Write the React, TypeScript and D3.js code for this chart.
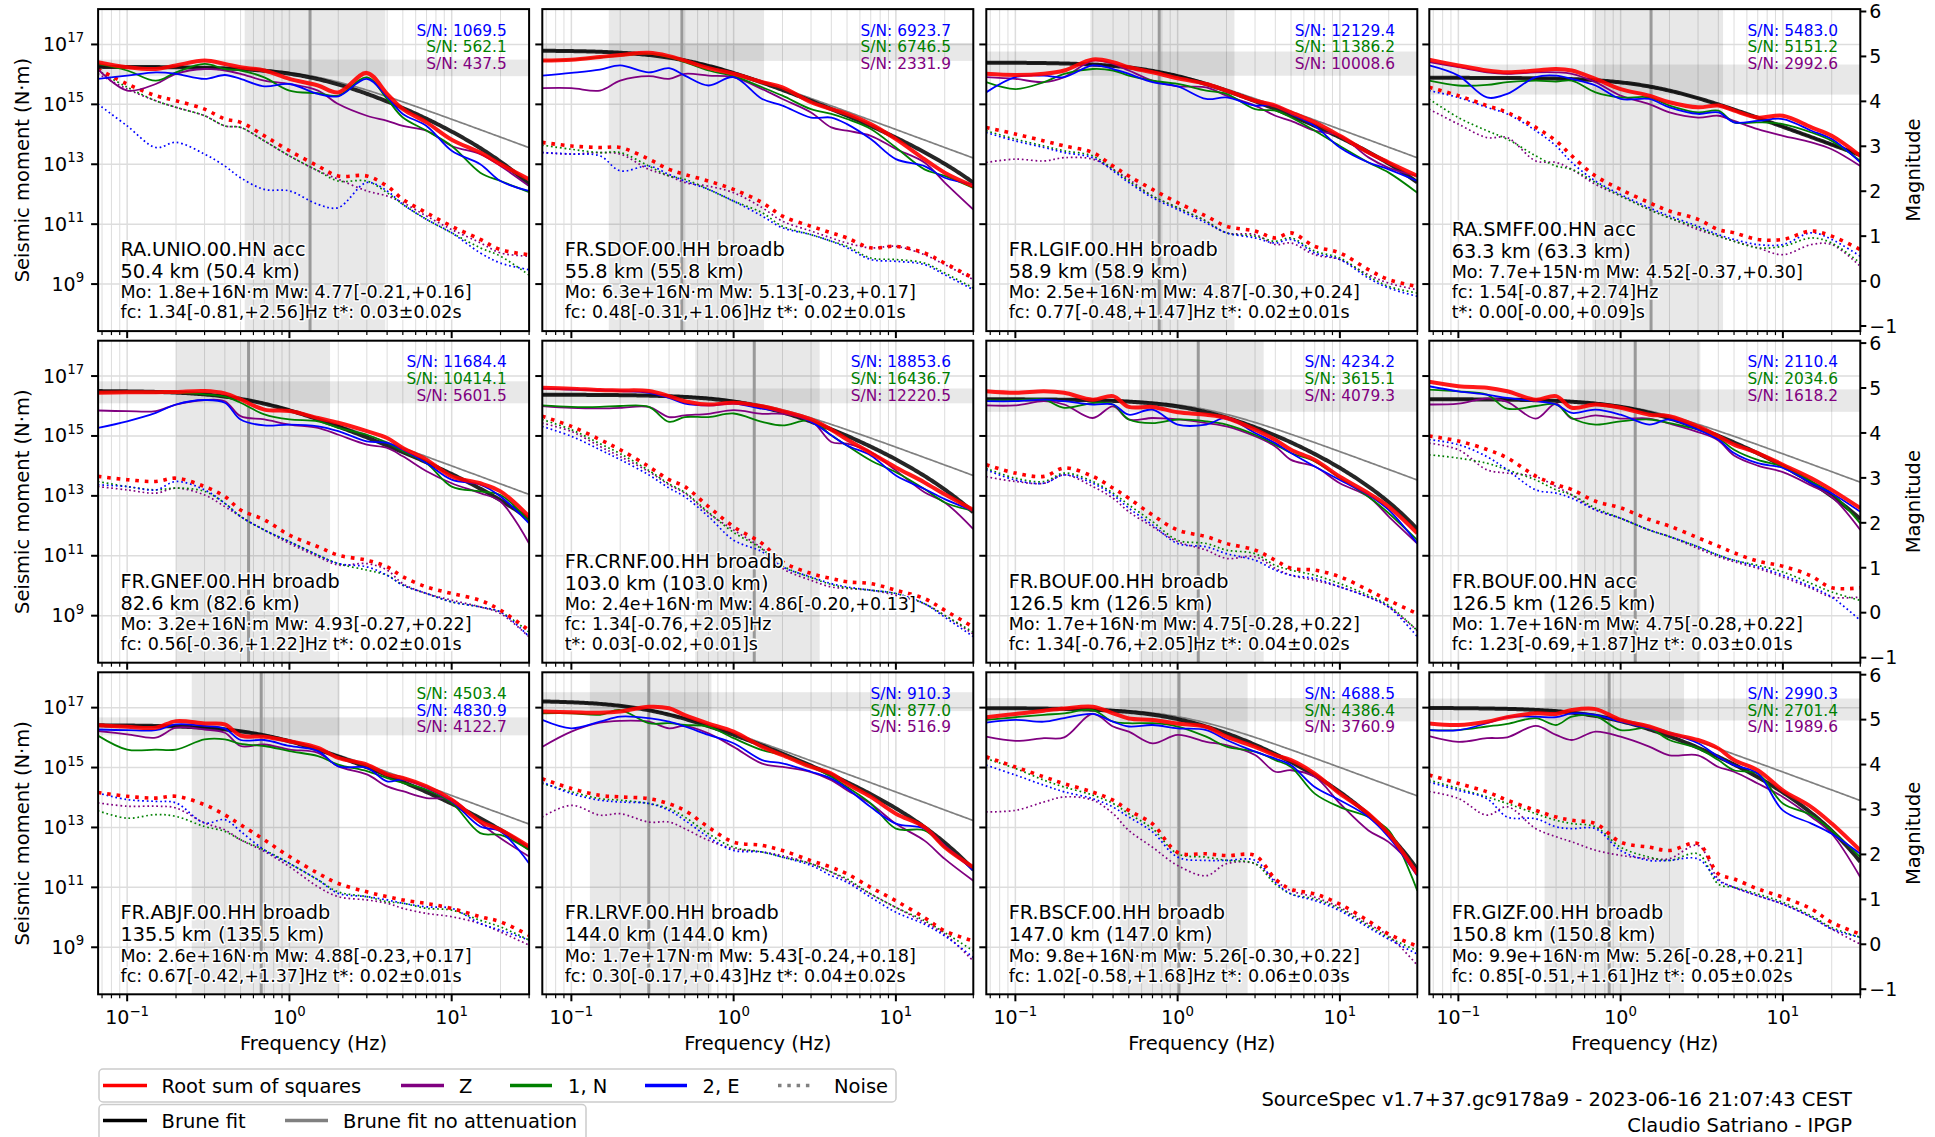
import React from "react";
import * as d3 from "d3";

// ---------------- data ----------------
const FREQ = [0.066, 0.1, 0.15, 0.2, 0.3, 0.4, 0.5, 0.7, 1, 1.5, 2, 3, 4, 5, 7, 10, 15, 20, 30];

const STATION = ["RA.UNIO.00.HN acc", "FR.SDOF.00.HH broadb", "FR.LGIF.00.HH broadb", "RA.SMFF.00.HN acc",
  "FR.GNEF.00.HH broadb", "FR.CRNF.00.HH broadb", "FR.BOUF.00.HH broadb", "FR.BOUF.00.HN acc",
  "FR.ABJF.00.HH broadb", "FR.LRVF.00.HH broadb", "FR.BSCF.00.HH broadb", "FR.GIZF.00.HH broadb"];
const DISTANCE = ["50.4 km (50.4 km)", "55.8 km (55.8 km)", "58.9 km (58.9 km)", "63.3 km (63.3 km)",
  "82.6 km (82.6 km)", "103.0 km (103.0 km)", "126.5 km (126.5 km)", "126.5 km (126.5 km)",
  "135.5 km (135.5 km)", "144.0 km (144.0 km)", "147.0 km (147.0 km)", "150.8 km (150.8 km)"];
const DETAILS = [
  ["Mo: 1.8e+16N·m Mw: 4.77[-0.21,+0.16]", "fc: 1.34[-0.81,+2.56]Hz t*: 0.03±0.02s"],
  ["Mo: 6.3e+16N·m Mw: 5.13[-0.23,+0.17]", "fc: 0.48[-0.31,+1.06]Hz t*: 0.02±0.01s"],
  ["Mo: 2.5e+16N·m Mw: 4.87[-0.30,+0.24]", "fc: 0.77[-0.48,+1.47]Hz t*: 0.02±0.01s"],
  ["Mo: 7.7e+15N·m Mw: 4.52[-0.37,+0.30]", "fc: 1.54[-0.87,+2.74]Hz", "t*: 0.00[-0.00,+0.09]s"],
  ["Mo: 3.2e+16N·m Mw: 4.93[-0.27,+0.22]", "fc: 0.56[-0.36,+1.22]Hz t*: 0.02±0.01s"],
  ["Mo: 2.4e+16N·m Mw: 4.86[-0.20,+0.13]", "fc: 1.34[-0.76,+2.05]Hz", "t*: 0.03[-0.02,+0.01]s"],
  ["Mo: 1.7e+16N·m Mw: 4.75[-0.28,+0.22]", "fc: 1.34[-0.76,+2.05]Hz t*: 0.04±0.02s"],
  ["Mo: 1.7e+16N·m Mw: 4.75[-0.28,+0.22]", "fc: 1.23[-0.69,+1.87]Hz t*: 0.03±0.01s"],
  ["Mo: 2.6e+16N·m Mw: 4.88[-0.23,+0.17]", "fc: 0.67[-0.42,+1.37]Hz t*: 0.02±0.01s"],
  ["Mo: 1.7e+17N·m Mw: 5.43[-0.24,+0.18]", "fc: 0.30[-0.17,+0.43]Hz t*: 0.04±0.02s"],
  ["Mo: 9.8e+16N·m Mw: 5.26[-0.30,+0.22]", "fc: 1.02[-0.58,+1.68]Hz t*: 0.06±0.03s"],
  ["Mo: 9.9e+16N·m Mw: 5.26[-0.28,+0.21]", "fc: 0.85[-0.51,+1.61]Hz t*: 0.05±0.02s"],
];
const MO = [1.8e16, 6.3e16, 2.5e16, 7.7e15, 3.2e16, 2.4e16, 1.7e16, 1.7e16, 2.6e16, 1.7e17, 9.8e16, 9.9e16];
const MW = [4.77, 5.13, 4.87, 4.52, 4.93, 4.86, 4.75, 4.75, 4.88, 5.43, 5.26, 5.26];
const MW_MINUS = [0.21, 0.23, 0.30, 0.37, 0.27, 0.20, 0.28, 0.28, 0.23, 0.24, 0.30, 0.28];
const MW_PLUS = [0.16, 0.17, 0.24, 0.30, 0.22, 0.13, 0.22, 0.22, 0.17, 0.18, 0.22, 0.21];
const FC = [1.34, 0.48, 0.77, 1.54, 0.56, 1.34, 1.34, 1.23, 0.67, 0.30, 1.02, 0.85];
const FC_MINUS = [0.81, 0.31, 0.48, 0.87, 0.36, 0.76, 0.76, 0.69, 0.42, 0.17, 0.58, 0.51];
const FC_PLUS = [2.56, 1.06, 1.47, 2.74, 1.22, 2.05, 2.05, 1.87, 1.37, 0.43, 1.68, 1.61];
const TSTAR = [0.03, 0.02, 0.02, 0.00, 0.02, 0.03, 0.04, 0.03, 0.02, 0.04, 0.06, 0.05];

// S/N labels: [value, component] top to bottom
const SN_LABELS = [
  [["1069.5", "E"], ["562.1", "N"], ["437.5", "Z"]],
  [["6923.7", "E"], ["6746.5", "N"], ["2331.9", "Z"]],
  [["12129.4", "E"], ["11386.2", "N"], ["10008.6", "Z"]],
  [["5483.0", "E"], ["5151.2", "N"], ["2992.6", "Z"]],
  [["11684.4", "E"], ["10414.1", "N"], ["5601.5", "Z"]],
  [["18853.6", "E"], ["16436.7", "N"], ["12220.5", "Z"]],
  [["4234.2", "E"], ["3615.1", "N"], ["4079.3", "Z"]],
  [["2110.4", "E"], ["2034.6", "N"], ["1618.2", "Z"]],
  [["4503.4", "N"], ["4830.9", "E"], ["4122.7", "Z"]],
  [["910.3", "E"], ["877.0", "N"], ["516.9", "Z"]],
  [["4688.5", "E"], ["4386.4", "N"], ["3760.9", "Z"]],
  [["2990.3", "E"], ["2701.4", "N"], ["1989.6", "Z"]],
];

// log10 of seismic moment (N·m) at FREQ, per station
const RSS = [
  [16.41, 16.24, 16.18, 16.30, 16.46, 16.35, 16.24, 16.13, 15.85, 15.63, 15.40, 16.05, 15.35, 14.84, 14.40, 13.82, 13.39, 13.00, 12.50],
  [16.46, 16.49, 16.58, 16.65, 16.72, 16.61, 16.46, 16.21, 16.02, 15.74, 15.57, 15.07, 14.84, 14.68, 14.34, 13.84, 13.17, 12.72, 12.27],
  [16.02, 15.98, 16.02, 16.13, 16.50, 16.41, 16.24, 16.07, 15.87, 15.68, 15.46, 15.12, 14.96, 14.73, 14.40, 13.95, 13.39, 13.06, 12.61],
  [16.49, 16.30, 16.13, 16.07, 16.13, 16.18, 16.13, 15.85, 15.51, 15.29, 15.07, 14.90, 14.96, 14.79, 14.56, 14.62, 14.23, 13.95, 13.28],
  [16.44, 16.46, 16.46, 16.47, 16.50, 16.42, 16.22, 15.88, 15.83, 15.60, 15.44, 15.16, 14.93, 14.60, 14.21, 13.65, 13.42, 13.15, 12.31],
  [16.61, 16.58, 16.53, 16.52, 16.50, 16.33, 16.16, 16.05, 16.11, 15.99, 15.83, 15.55, 15.21, 14.88, 14.43, 13.95, 13.45, 13.05, 12.53],
  [16.49, 16.44, 16.49, 16.44, 16.21, 16.33, 15.97, 15.97, 15.79, 15.71, 15.60, 15.21, 14.87, 14.54, 14.20, 13.64, 13.09, 12.64, 11.75],
  [16.81, 16.66, 16.61, 16.49, 16.21, 16.33, 15.94, 16.05, 15.94, 15.71, 15.66, 15.32, 14.99, 14.71, 14.43, 14.04, 13.59, 13.20, 12.59],
  [16.41, 16.36, 16.33, 16.55, 16.47, 16.44, 16.07, 16.03, 15.88, 15.66, 15.32, 15.10, 14.77, 14.65, 14.37, 13.93, 13.20, 12.92, 12.36],
  [16.87, 16.85, 16.83, 16.87, 17.03, 16.98, 16.75, 16.47, 16.20, 15.69, 15.41, 15.02, 14.80, 14.46, 14.02, 13.46, 13.01, 12.34, 11.67],
  [16.68, 16.79, 16.90, 16.97, 17.03, 16.81, 16.64, 16.59, 16.47, 16.36, 16.03, 15.69, 15.41, 15.25, 14.80, 14.13, 13.46, 12.79, 11.45],
  [16.47, 16.42, 16.53, 16.68, 16.81, 16.79, 16.92, 16.95, 16.59, 16.37, 16.14, 15.92, 15.64, 15.25, 14.91, 14.24, 13.68, 13.13, 12.23],
];
const COMP_Z = [
  [16.18, 15.46, 15.68, 16.02, 16.18, 16.13, 16.02, 15.79, 15.68, 15.46, 15.01, 14.62, 14.45, 14.28, 14.12, 13.61, 13.34, 12.94, 12.27],
  [15.54, 15.54, 15.46, 15.79, 15.94, 15.85, 16.02, 15.96, 15.91, 15.51, 15.18, 14.73, 14.23, 14.12, 13.95, 13.51, 13.06, 12.39, 11.49],
  [15.91, 15.85, 15.74, 15.91, 16.46, 16.35, 16.13, 15.79, 15.60, 15.57, 15.29, 14.96, 14.62, 14.45, 14.12, 13.95, 13.23, 12.88, 12.61],
  [16.41, 16.24, 16.07, 16.02, 16.07, 16.07, 16.02, 15.74, 15.29, 15.01, 14.73, 14.56, 14.62, 14.45, 14.17, 13.95, 13.73, 13.50, 12.94],
  [15.85, 15.83, 15.83, 16.05, 16.20, 16.16, 15.66, 15.55, 15.38, 15.27, 15.04, 14.71, 14.60, 14.32, 13.82, 13.42, 13.09, 12.81, 11.41],
  [16.00, 15.94, 15.92, 15.94, 15.97, 15.63, 15.69, 15.74, 15.86, 15.74, 15.74, 15.52, 14.80, 14.74, 14.46, 13.85, 13.12, 12.78, 11.89],
  [16.02, 16.02, 16.16, 16.05, 15.60, 15.99, 15.55, 15.60, 15.55, 15.43, 15.32, 14.99, 14.65, 14.20, 13.98, 13.42, 12.97, 12.31, 11.41],
  [16.05, 16.08, 16.25, 16.14, 15.58, 16.08, 15.58, 15.69, 15.58, 15.58, 15.41, 15.13, 14.85, 14.35, 14.01, 13.79, 13.34, 12.97, 11.86],
  [16.22, 16.11, 16.00, 16.33, 16.27, 16.16, 15.72, 15.77, 15.60, 15.49, 15.04, 14.77, 14.37, 14.21, 13.98, 13.93, 13.15, 12.64, 12.03],
  [15.69, 16.20, 16.50, 16.56, 16.53, 16.31, 16.39, 16.14, 15.69, 15.13, 15.02, 14.85, 14.58, 14.24, 13.79, 13.12, 12.56, 11.95, 11.22],
  [16.03, 15.89, 15.98, 16.01, 16.79, 16.37, 16.20, 15.81, 16.09, 15.86, 15.75, 15.42, 14.86, 14.91, 14.69, 13.80, 12.90, 12.51, 11.56],
  [16.05, 15.86, 15.98, 16.01, 16.39, 16.09, 15.92, 16.20, 16.03, 15.70, 15.41, 15.41, 15.02, 14.86, 14.47, 14.02, 13.35, 12.79, 11.34],
];
const COMP_N = [
  [16.35, 16.13, 15.79, 16.07, 16.35, 16.18, 16.13, 15.90, 15.46, 15.37, 15.29, 15.90, 15.18, 14.56, 14.12, 13.61, 12.72, 12.44, 12.07],
  [16.45, 16.49, 16.57, 16.63, 16.69, 16.58, 16.41, 16.13, 15.94, 15.57, 15.29, 14.84, 14.68, 14.51, 14.18, 13.56, 12.83, 12.61, 12.21],
  [15.74, 15.51, 15.74, 16.02, 16.18, 16.13, 15.96, 15.79, 15.68, 15.46, 15.35, 14.84, 14.79, 14.56, 14.12, 13.61, 13.06, 12.72, 12.05],
  [15.79, 15.63, 15.65, 15.74, 15.79, 15.76, 15.79, 15.40, 15.23, 15.23, 14.96, 14.73, 14.79, 14.40, 14.40, 14.34, 14.06, 13.78, 13.11],
  [16.44, 16.46, 16.46, 16.44, 16.39, 16.31, 16.11, 15.72, 15.55, 15.49, 15.27, 15.04, 14.77, 14.49, 14.09, 13.31, 13.15, 13.03, 12.14],
  [16.02, 15.97, 15.97, 16.00, 15.97, 15.47, 15.63, 15.63, 15.75, 15.47, 15.35, 15.52, 15.02, 14.68, 14.18, 13.79, 13.23, 12.78, 12.50],
  [16.19, 16.19, 16.21, 15.94, 16.10, 16.05, 15.55, 15.43, 15.55, 15.49, 15.38, 15.04, 14.71, 14.43, 14.15, 13.59, 12.97, 12.42, 11.52],
  [16.55, 16.49, 16.38, 15.91, 16.00, 16.05, 15.60, 15.38, 15.49, 15.55, 15.43, 15.21, 14.93, 14.54, 14.20, 13.98, 13.48, 13.09, 12.08],
  [16.07, 15.60, 15.60, 15.60, 15.94, 15.94, 15.79, 15.72, 15.55, 15.38, 15.10, 14.88, 14.65, 14.49, 14.26, 13.82, 12.81, 12.75, 12.25],
  [16.81, 16.81, 16.76, 16.92, 16.48, 16.48, 16.42, 16.37, 15.98, 15.58, 15.42, 15.03, 14.69, 14.35, 13.80, 12.96, 12.90, 12.34, 11.62],
  [16.59, 16.68, 16.76, 16.81, 16.92, 16.53, 16.48, 16.48, 16.37, 16.03, 15.70, 15.53, 15.25, 15.02, 14.13, 13.68, 13.35, 12.90, 10.89],
  [16.25, 16.25, 16.37, 16.46, 16.65, 16.42, 16.70, 16.72, 16.25, 16.31, 15.92, 15.64, 15.25, 14.91, 14.80, 13.80, 13.41, 12.90, 12.01],
];
const COMP_E = [
  [15.85, 15.96, 16.07, 16.02, 15.85, 15.98, 15.85, 15.60, 15.68, 15.35, 15.27, 15.85, 15.25, 14.68, 14.28, 13.45, 13.00, 12.44, 12.11],
  [15.96, 16.05, 16.16, 16.30, 16.07, 16.21, 15.96, 15.63, 15.91, 15.18, 14.96, 14.56, 14.56, 14.34, 13.84, 13.17, 12.94, 12.55, 12.33],
  [15.40, 15.91, 15.96, 15.91, 16.30, 16.18, 16.02, 15.74, 15.60, 15.18, 15.23, 14.96, 14.96, 14.68, 14.28, 13.56, 13.06, 12.83, 12.44],
  [16.30, 15.96, 15.23, 15.35, 15.91, 15.96, 15.85, 15.63, 15.18, 15.18, 14.90, 14.68, 14.73, 14.40, 14.45, 14.51, 14.12, 13.84, 13.06],
  [15.27, 15.49, 15.77, 16.05, 16.20, 16.11, 15.55, 15.35, 15.38, 15.32, 15.16, 14.82, 14.77, 14.54, 14.09, 13.54, 13.37, 12.98, 12.08],
  [16.58, 16.55, 16.53, 16.50, 16.44, 16.27, 16.08, 16.02, 16.08, 15.91, 15.80, 15.47, 15.02, 14.68, 14.35, 13.68, 13.23, 12.89, 12.50],
  [16.16, 16.16, 16.21, 16.16, 16.05, 16.05, 15.71, 15.88, 15.38, 15.38, 15.60, 15.10, 14.76, 14.43, 13.98, 13.53, 13.03, 12.53, 11.41],
  [16.66, 16.49, 16.38, 16.27, 16.16, 16.05, 15.77, 15.88, 15.71, 15.38, 15.55, 15.21, 14.88, 14.43, 14.09, 13.93, 13.42, 13.09, 12.47],
  [16.27, 16.25, 16.25, 16.44, 16.39, 16.30, 15.92, 15.92, 15.72, 15.55, 15.04, 14.99, 14.54, 14.60, 14.32, 13.87, 13.03, 12.87, 11.80],
  [16.59, 16.31, 16.53, 16.70, 16.65, 16.53, 16.37, 16.09, 15.81, 15.25, 15.14, 14.86, 14.63, 14.30, 13.68, 13.13, 12.96, 12.40, 11.56],
  [16.50, 16.59, 16.53, 16.65, 16.79, 16.53, 16.37, 16.42, 16.31, 16.25, 15.92, 15.53, 15.30, 15.08, 14.35, 13.91, 13.35, 12.68, 11.39],
  [16.25, 16.25, 16.48, 16.68, 16.70, 16.68, 16.81, 16.76, 16.53, 16.31, 16.14, 15.81, 15.36, 15.08, 14.80, 13.57, 13.13, 12.79, 12.12],
];
const NOISE_RSS = [
  [16.18, 15.68, 15.29, 15.12, 14.84, 14.51, 14.40, 13.95, 13.45, 12.94, 12.61, 12.61, 12.27, 11.83, 11.38, 10.93, 10.49, 10.15, 9.98],
  [13.73, 13.61, 13.56, 13.56, 13.17, 12.83, 12.66, 12.44, 12.16, 11.72, 11.27, 10.93, 10.71, 10.54, 10.21, 10.26, 10.04, 9.70, 9.20],
  [14.23, 14.01, 13.78, 13.61, 13.39, 12.94, 12.61, 12.16, 11.72, 11.27, 10.93, 10.77, 10.54, 10.71, 10.26, 10.04, 9.48, 9.15, 8.92],
  [15.57, 15.29, 14.96, 14.73, 14.23, 13.78, 13.28, 12.61, 12.16, 11.72, 11.44, 11.16, 10.82, 10.71, 10.49, 10.49, 10.77, 10.60, 10.15],
  [13.65, 13.54, 13.48, 13.59, 13.31, 12.98, 12.53, 12.20, 11.69, 11.30, 11.02, 10.85, 10.63, 10.30, 9.96, 9.74, 9.51, 9.18, 8.51],
  [15.66, 15.32, 14.88, 14.54, 13.98, 13.54, 13.31, 12.64, 11.97, 11.41, 10.80, 10.41, 10.24, 10.13, 10.07, 9.85, 9.57, 9.18, 8.62],
  [14.04, 13.76, 13.65, 13.93, 13.65, 13.26, 12.92, 12.36, 11.86, 11.64, 11.41, 11.19, 10.85, 10.58, 10.52, 10.30, 9.85, 9.51, 9.07],
  [15.00, 14.83, 14.55, 14.27, 13.66, 13.38, 13.21, 12.82, 12.60, 12.21, 11.99, 11.60, 11.32, 11.10, 10.82, 10.65, 10.32, 9.93, 9.93],
  [14.17, 14.04, 13.98, 14.04, 13.76, 13.42, 13.09, 12.59, 12.03, 11.47, 11.13, 10.85, 10.69, 10.58, 10.46, 10.30, 10.02, 9.85, 9.40],
  [14.63, 14.30, 14.07, 14.02, 13.96, 13.79, 13.57, 13.01, 12.51, 12.40, 12.23, 11.89, 11.67, 11.45, 11.00, 10.55, 9.99, 9.55, 9.21],
  [15.36, 15.02, 14.69, 14.46, 14.18, 13.91, 13.57, 13.12, 12.17, 12.12, 12.06, 12.06, 11.28, 10.94, 10.78, 10.44, 9.88, 9.44, 9.04],
  [14.75, 14.47, 14.19, 13.91, 13.57, 13.35, 13.24, 13.13, 12.51, 12.34, 12.23, 12.46, 11.45, 11.28, 10.95, 10.67, 10.28, 9.83, 9.44],
];
const NOISE_Z = [
  [16.02, 15.51, 15.12, 14.90, 14.62, 14.28, 14.23, 13.78, 13.28, 12.78, 12.50, 12.11, 11.94, 11.72, 11.27, 10.82, 10.38, 10.04, 9.93],
  [13.39, 13.34, 13.39, 13.34, 12.83, 12.61, 12.39, 12.27, 12.05, 11.55, 11.10, 10.77, 10.54, 10.37, 10.21, 10.26, 9.98, 9.65, 9.15],
  [13.06, 13.17, 13.11, 13.22, 13.17, 12.83, 12.50, 11.94, 11.55, 11.10, 10.71, 10.65, 10.32, 10.37, 9.98, 9.82, 9.31, 9.03, 8.81],
  [14.84, 14.34, 13.89, 13.89, 13.11, 13.06, 12.83, 12.33, 11.94, 11.49, 11.21, 10.82, 10.60, 10.43, 10.21, 9.98, 10.32, 10.32, 9.59],
  [13.31, 13.20, 13.09, 13.26, 13.03, 12.64, 12.31, 11.86, 11.41, 10.97, 10.69, 10.74, 10.52, 10.07, 9.74, 9.52, 9.29, 9.07, 8.29],
  [15.43, 15.15, 14.65, 14.31, 13.81, 13.37, 13.09, 12.42, 11.86, 11.24, 10.58, 10.18, 9.96, 9.91, 9.85, 9.68, 9.40, 9.01, 8.39],
  [13.64, 13.48, 13.42, 13.70, 13.31, 12.92, 12.47, 11.97, 11.47, 11.19, 10.91, 10.97, 10.58, 10.35, 10.18, 9.96, 9.62, 9.29, 8.50],
  [14.76, 14.54, 13.87, 13.76, 13.64, 13.31, 13.03, 12.53, 12.25, 11.86, 11.64, 11.24, 10.97, 10.80, 10.58, 10.29, 9.91, 9.62, 9.62],
  [13.82, 13.71, 13.71, 13.65, 13.15, 12.92, 12.59, 12.20, 11.69, 11.02, 10.69, 10.58, 10.47, 10.30, 10.13, 10.02, 9.79, 9.51, 9.07],
  [13.35, 13.74, 13.41, 13.46, 13.18, 13.18, 12.96, 12.57, 12.29, 12.18, 12.06, 11.79, 11.51, 11.23, 10.78, 10.33, 9.83, 9.44, 8.54],
  [13.52, 13.57, 13.85, 14.02, 13.91, 13.46, 12.90, 12.34, 11.73, 11.39, 11.79, 11.79, 11.23, 10.89, 10.67, 10.33, 9.77, 9.38, 8.40],
  [14.20, 13.97, 13.41, 13.69, 12.96, 12.69, 12.52, 12.24, 12.07, 11.96, 11.96, 12.40, 11.28, 11.00, 10.72, 10.44, 10.00, 9.61, 9.10],
];
const NOISE_N = [
  [16.13, 15.57, 15.12, 14.90, 14.62, 14.28, 14.23, 13.78, 13.28, 12.78, 12.44, 12.44, 12.05, 11.66, 11.16, 10.71, 10.21, 9.93, 9.30],
  [13.64, 13.50, 13.39, 13.39, 12.94, 12.61, 12.50, 12.16, 11.77, 11.38, 10.93, 10.65, 10.43, 10.26, 9.87, 9.82, 9.70, 9.37, 8.87],
  [14.12, 13.84, 13.61, 13.45, 13.28, 12.83, 12.44, 11.94, 11.55, 11.10, 10.71, 10.60, 10.43, 10.54, 10.10, 9.87, 9.26, 8.92, 8.70],
  [15.18, 14.56, 14.12, 13.84, 13.28, 12.94, 12.83, 12.39, 11.94, 11.49, 11.21, 10.88, 10.60, 10.43, 10.21, 10.26, 10.54, 10.37, 9.70],
  [13.48, 13.31, 13.20, 13.26, 13.15, 12.75, 12.31, 11.86, 11.47, 11.02, 10.74, 10.52, 10.35, 10.02, 9.74, 9.46, 9.29, 9.12, 8.45],
  [15.55, 15.21, 14.74, 14.41, 13.85, 13.40, 13.12, 12.45, 11.78, 11.22, 10.66, 10.27, 10.04, 9.93, 9.85, 9.74, 9.40, 9.01, 8.45],
  [13.92, 13.59, 13.48, 13.76, 13.48, 13.09, 12.70, 12.14, 11.52, 11.41, 11.19, 11.07, 10.68, 10.52, 10.35, 10.07, 9.68, 9.34, 8.50],
  [14.37, 14.26, 14.09, 13.87, 13.53, 13.20, 13.03, 12.59, 12.25, 11.86, 11.64, 11.30, 11.02, 10.85, 10.68, 10.46, 10.07, 9.79, 9.51],
  [13.56, 13.31, 13.43, 13.37, 13.03, 12.87, 12.59, 12.25, 11.80, 11.25, 10.85, 10.69, 10.52, 10.47, 10.30, 10.24, 9.90, 9.68, 9.24],
  [14.47, 14.19, 13.96, 13.91, 13.80, 13.63, 13.35, 12.79, 12.34, 12.18, 12.01, 11.79, 11.51, 11.28, 10.78, 10.33, 9.89, 9.49, 8.88],
  [15.30, 14.97, 14.58, 14.35, 14.08, 13.80, 13.46, 12.96, 12.12, 12.01, 11.90, 11.79, 11.11, 10.78, 10.61, 10.28, 9.72, 9.33, 8.88],
  [14.58, 14.30, 14.02, 13.80, 13.46, 13.24, 13.13, 13.02, 12.34, 12.01, 11.90, 12.12, 11.11, 11.00, 10.78, 10.50, 10.05, 9.66, 9.33],
];
const NOISE_E = [
  [15.01, 14.28, 13.56, 13.73, 13.34, 12.94, 12.55, 12.16, 12.11, 11.66, 11.55, 12.39, 12.11, 11.66, 11.16, 10.71, 10.04, 9.70, 9.48],
  [13.39, 13.34, 13.28, 12.78, 12.94, 12.66, 12.44, 12.16, 11.77, 11.27, 10.88, 10.65, 10.43, 10.21, 9.82, 9.76, 9.65, 9.31, 8.81],
  [14.06, 13.78, 13.56, 13.39, 13.22, 12.78, 12.39, 11.88, 11.49, 11.04, 10.71, 10.54, 10.37, 10.49, 10.04, 9.82, 9.20, 8.87, 8.59],
  [15.46, 15.23, 14.90, 14.68, 14.12, 13.61, 13.06, 12.44, 11.99, 11.55, 11.27, 10.93, 10.65, 10.49, 10.32, 10.32, 10.71, 10.49, 9.93],
  [13.37, 13.31, 13.20, 13.48, 13.20, 12.75, 12.31, 11.86, 11.47, 11.02, 10.74, 10.63, 10.35, 10.02, 9.74, 9.46, 9.29, 9.12, 8.30],
  [15.32, 14.99, 14.54, 14.21, 13.70, 13.26, 12.97, 12.31, 11.52, 11.13, 10.63, 10.29, 10.07, 9.96, 9.85, 9.74, 9.40, 8.95, 8.30],
  [13.87, 13.53, 13.42, 13.70, 13.42, 13.03, 12.59, 12.03, 11.41, 11.30, 11.07, 10.85, 10.52, 10.35, 10.24, 9.96, 9.62, 9.29, 8.30],
  [14.88, 14.71, 14.31, 13.87, 13.20, 13.09, 12.92, 12.53, 12.25, 11.86, 11.64, 11.30, 11.02, 10.85, 10.63, 10.35, 9.96, 9.62, 8.84],
  [14.15, 13.93, 13.87, 13.82, 13.15, 13.26, 12.87, 12.25, 11.80, 11.25, 10.80, 10.69, 10.58, 10.47, 10.35, 10.30, 9.79, 9.57, 9.24],
  [14.52, 14.13, 13.91, 13.85, 13.80, 13.57, 13.24, 12.68, 12.23, 12.18, 12.01, 11.73, 11.39, 11.17, 10.67, 10.17, 9.77, 9.38, 8.66],
  [15.08, 14.75, 14.41, 14.19, 13.96, 13.68, 13.35, 12.85, 12.01, 11.90, 11.90, 11.90, 11.17, 10.78, 10.56, 10.22, 9.66, 9.27, 8.77],
  [14.52, 14.24, 13.96, 13.35, 13.29, 13.02, 12.96, 12.96, 12.23, 11.90, 11.90, 11.95, 11.23, 11.00, 10.72, 10.44, 10.00, 9.61, 9.33],
];

const Y_TICKS = [9, 11, 13, 15, 17];
const MAG_TICKS = [-1, 0, 1, 2, 3, 4, 5, 6];
const X_TICKS = [-1, 0, 1];

// ---------------- layout ----------------
const FONT = "'DejaVu Sans', Verdana, sans-serif";
const PW = 431, PH = 322;
const COL_X = [98.1, 542.3, 986.3, 1429.3];
const ROW_Y = [9.1, 340.7, 672.3];
const F_DOMAIN = [0.0662, 30];
const LOGM_DOMAIN = [7.43, 18.18];
const COLORS: Record<string, string> = { Z: "#800080", N: "#008000", E: "#0000ff", R: "#ff0000" };

function Panel({ idx }: { idx: number }) {
  const r = Math.floor(idx / 4), c = idx % 4;
  const X0 = COL_X[c], Y0 = ROW_Y[r];
  const x = d3.scaleLog().domain(F_DOMAIN).range([0, PW]);
  const y = d3.scaleLinear().domain(LOGM_DOMAIN).range([PH, 0]);
  const line = d3.line<number>().x((_, i) => x(FREQ[i])).y((d) => y(d)).curve(d3.curveCatmullRom.alpha(0.5));
  const mline = d3.line<number[]>().x((d) => x(d[0])).y((d) => y(d[1]));
  const fc = FC[idx];
  const mwLo = 1.5 * (MW[idx] - MW_MINUS[idx]) + 9.1;
  const mwHi = 1.5 * (MW[idx] + MW_PLUS[idx]) + 9.1;
  const fcLo = fc - FC_MINUS[idx], fcHi = fc + FC_PLUS[idx];
  const logMo = Math.log10(MO[idx]);
  const fDense = d3.range(241).map((k) => F_DOMAIN[0] * Math.pow(F_DOMAIN[1] / F_DOMAIN[0], k / 240));
  const noAtt = fDense.map((f) => [f, logMo - Math.log10(1 + (f / fc) ** 2)]);
  const brune = fDense.map((f) => [f, logMo - Math.log10(1 + (f / fc) ** 2) - Math.PI * TSTAR[idx] * f * Math.LOG10E]);

  const minor: number[] = [];
  const major: number[] = [];
  for (let d = -2; d <= 1; d++) {
    for (let k = 1; k <= 9; k++) {
      const f = k * Math.pow(10, d);
      if (f < F_DOMAIN[0] || f > F_DOMAIN[1] * 1.0001) continue;
      if (k === 1) major.push(f); else minor.push(f);
    }
  }
  const clipId = `clip${idx}`;
  const det = DETAILS[idx];
  const lastBase = 309.4;
  const detBase = det.map((_, i) => lastBase - (det.length - 1 - i) * 20);
  const distBase = detBase[0] - 20.5;
  const nameBase = distBase - 21.7;
  const halo = { stroke: "#fff", strokeWidth: 3, paintOrder: "stroke", strokeLinejoin: "round" as const };

  return (
    <g transform={`translate(${X0},${Y0})`} fontFamily={FONT}>
      <defs>
        <clipPath id={clipId}><rect x={0} y={0} width={PW} height={PH} /></clipPath>
      </defs>
      <rect x={0} y={0} width={PW} height={PH} fill="#fff" />
      <g clipPath={`url(#${clipId})`}>
        {minor.map((f) => <line key={"m" + f} x1={x(f)} x2={x(f)} y1={0} y2={PH} stroke="#dddddd" strokeWidth={1} />)}
        {major.map((f) => <line key={"M" + f} x1={x(f)} x2={x(f)} y1={0} y2={PH} stroke="#dddddd" strokeWidth={1.5} />)}
        {Y_TICKS.map((t) => <line key={"y" + t} x1={0} x2={PW} y1={y(t)} y2={y(t)} stroke="#dddddd" strokeWidth={1.5} />)}
        <rect x={x(fcLo)} y={0} width={x(fcHi) - x(fcLo)} height={PH} fill="#000" fillOpacity={0.09} />
        <rect x={0} y={y(mwHi)} width={PW} height={y(mwLo) - y(mwHi)} fill="#000" fillOpacity={0.09} />
        <line x1={x(fc)} x2={x(fc)} y1={0} y2={PH} stroke="#999" strokeWidth={3} />
        {[["Z", NOISE_Z], ["N", NOISE_N], ["E", NOISE_E]].map(([k, arr]: any) => (
          <path key={"n" + k} d={line(arr[idx]) || ""} fill="none" stroke={COLORS[k]} strokeWidth={1.7} strokeDasharray="1.7 2.8" />
        ))}
        <path d={line(NOISE_RSS[idx]) || ""} fill="none" stroke={COLORS.R} strokeWidth={3.6} strokeDasharray="3.6 5.8" />
        <path d={mline(noAtt as any) || ""} fill="none" stroke="#808080" strokeWidth={1.7} />
        <path d={mline(brune as any) || ""} fill="none" stroke="#000" strokeOpacity={0.85} strokeWidth={4} />
        {[["Z", COMP_Z], ["N", COMP_N], ["E", COMP_E]].map(([k, arr]: any) => (
          <path key={"c" + k} d={line(arr[idx]) || ""} fill="none" stroke={COLORS[k]} strokeWidth={1.8} />
        ))}
        <path d={line(RSS[idx]) || ""} fill="none" stroke={COLORS.R} strokeOpacity={0.9} strokeWidth={4} />
      </g>
      {/* S/N labels */}
      {SN_LABELS[idx].map(([v, k], i) => (
        <text key={"sn" + i} x={PW - 22.3} y={26.6 + i * 16.7} textAnchor="end" fontSize={15.4} fill={COLORS[k]}>{`S/N: ${v}`}</text>
      ))}
      {/* station text */}
      <g fill="#000" {...halo}>
        <text x={22.4} y={nameBase} fontSize={19.3}>{STATION[idx]}</text>
        <text x={22.4} y={distBase} fontSize={19.3}>{DISTANCE[idx]}</text>
        {det.map((s, i) => <text key={"d" + i} x={22.4} y={detBase[i]} fontSize={17.5}>{s}</text>)}
      </g>
      <rect x={0} y={0} width={PW} height={PH} fill="none" stroke="#000" strokeWidth={2} />
      {/* bottom ticks */}
      {minor.map((f) => <line key={"bt" + f} x1={x(f)} x2={x(f)} y1={PH} y2={PH + 4} stroke="#000" strokeWidth={1.2} />)}
      {major.map((f) => <line key={"bT" + f} x1={x(f)} x2={x(f)} y1={PH} y2={PH + 7} stroke="#000" strokeWidth={2} />)}
      {Y_TICKS.map((t) => <line key={"lt" + t} x1={-7} x2={0} y1={y(t)} y2={y(t)} stroke="#000" strokeWidth={2} />)}
      {c === 0 && Y_TICKS.map((t) => (
        <text key={"ll" + t} x={-14} y={y(t) + 6.5} textAnchor="end" fontSize={19}>
          10<tspan dy={-8.5} fontSize={13.3}>{t}</tspan>
        </text>
      ))}
      {c === 3 && MAG_TICKS.map((m) => (
        <g key={"mg" + m}>
          <line x1={PW} x2={PW + 6} y1={y(1.5 * m + 9.1)} y2={y(1.5 * m + 9.1)} stroke="#000" strokeWidth={2} />
          <text x={PW + 9} y={y(1.5 * m + 9.1) + 6.8} fontSize={19}>{m < 0 ? "\u2212" + Math.abs(m) : String(m)}</text>
        </g>
      ))}
      {r === 2 && X_TICKS.map((e) => (
        <text key={"xl" + e} x={x(Math.pow(10, e))} y={PH + 30} textAnchor="middle" fontSize={19}>
          10<tspan dy={-8.5} fontSize={13.3}>{e < 0 ? "\u2212" + Math.abs(e) : String(e)}</tspan>
        </text>
      ))}
      {r === 2 && <text x={PW / 2} y={1050 - Y0} textAnchor="middle" fontSize={19.5}>Frequency (Hz)</text>}
      {c === 0 && <text transform={`translate(${29 - X0},${PH / 2}) rotate(-90)`} textAnchor="middle" fontSize={19.5}>Seismic moment (N·m)</text>}
      {c === 3 && <text transform={`translate(${1919.5 - X0},${PH / 2}) rotate(-90)`} textAnchor="middle" fontSize={19.5}>Magnitude</text>}
    </g>
  );
}

const LEGEND_ROW1 = [
  { label: "Root sum of squares", color: "#ff0000", dash: "", x1: 103, x2: 147, tx: 161.5 },
  { label: "Z", color: "#800080", dash: "", x1: 401, x2: 444, tx: 459 },
  { label: "1, N", color: "#008000", dash: "", x1: 510, x2: 552, tx: 568 },
  { label: "2, E", color: "#0000ff", dash: "", x1: 645, x2: 687, tx: 702.5 },
  { label: "Noise", color: "#808080", dash: "3.5 5.8", x1: 778, x2: 813, tx: 834 },
];
const LEGEND_ROW2 = [
  { label: "Brune fit", color: "#000000", dash: "", x1: 103, x2: 147, tx: 161.5 },
  { label: "Brune fit no attenuation", color: "#808080", dash: "", x1: 285, x2: 328, tx: 343 },
];

export default function App() {
  return (
    <div style={{ position: "absolute", left: 0, top: 0, width: 1935, height: 1137, overflow: "hidden", background: "#fff" }}>
      <svg width={1935} height={1137} viewBox="0 0 1935 1137" style={{ display: "block" }} fontFamily={FONT}>
        <rect width={1935} height={1137} fill="#fff" />
        {d3.range(12).map((i) => <Panel key={i} idx={i} />)}
        {/* legend */}
        <rect x={99} y={1069} width={797} height={33} rx={4} fill="#fff" stroke="#cccccc" strokeWidth={1.5} />
        <rect x={99} y={1104.5} width={487} height={45} rx={4} fill="#fff" stroke="#cccccc" strokeWidth={1.5} />
        {LEGEND_ROW1.map((it) => (
          <g key={it.label}>
            <line x1={it.x1} x2={it.x2} y1={1085.5} y2={1085.5} stroke={it.color} strokeWidth={3.6} strokeDasharray={it.dash || undefined} />
            <text x={it.tx} y={1092.5} fontSize={19.5}>{it.label}</text>
          </g>
        ))}
        {LEGEND_ROW2.map((it) => (
          <g key={it.label}>
            <line x1={it.x1} x2={it.x2} y1={1120.5} y2={1120.5} stroke={it.color} strokeWidth={3.6} />
            <text x={it.tx} y={1127.5} fontSize={19.5}>{it.label}</text>
          </g>
        ))}
        <text x={1852} y={1106} textAnchor="end" fontSize={19.5}>SourceSpec v1.7+37.gc9178a9 - 2023-06-16 21:07:43 CEST</text>
        <text x={1852} y={1131.5} textAnchor="end" fontSize={19.5}>Claudio Satriano - IPGP</text>
      </svg>
    </div>
  );
}
